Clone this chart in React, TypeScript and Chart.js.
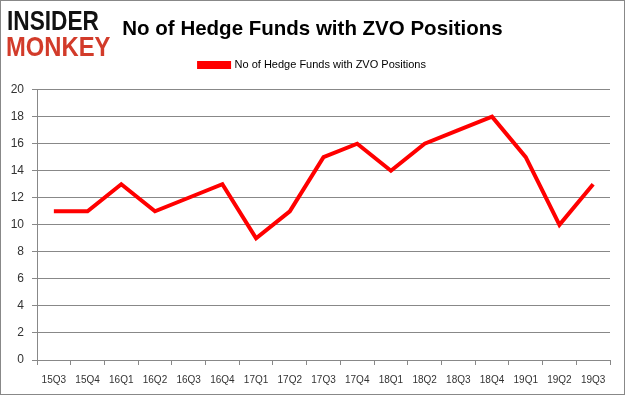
import React, { useEffect, useRef } from "react";
import { Chart, registerables } from "chart.js";

Chart.register(...registerables);

const categories = ["15Q3","15Q4","16Q1","16Q2","16Q3","16Q4","17Q1","17Q2","17Q3","17Q4","18Q1","18Q2","18Q3","18Q4","19Q1","19Q2","19Q3"];
const hedgeFunds = [11, 11, 13, 11, 12, 13, 9, 11, 15, 16, 14, 16, 17, 18, 15, 10, 13];
const seriesLabel = "No of Hedge Funds with ZVO Positions";
const titleText = "No of Hedge Funds with ZVO Positions";

const legendGap = {
  id: "legendGap",
  beforeInit(chart: any) {
    const legend = chart.legend;
    if (!legend) return;
    const origFit = legend.fit;
    legend.fit = function () {
      origFit.call(this);
      this.height += 9;
    };
  },
};

export default function App() {
  const ref = useRef<HTMLCanvasElement | null>(null);
  useEffect(() => {
    if (!ref.current) return;
    const chart = new Chart(ref.current, {
      type: "line",
      data: {
        labels: categories,
        datasets: [
          {
            label: seriesLabel,
            data: hedgeFunds,
            borderColor: "#ff0000",
            backgroundColor: "#ff0000",
            borderWidth: 4,
            pointRadius: 0,
            tension: 0,
          },
        ],
      },
      plugins: [legendGap],
      options: {
        animation: false,
        responsive: false,
        layout: { padding: { left: 14, right: 14, top: 16, bottom: 0 } },
        plugins: {
          title: {
            display: true,
            text: titleText,
            color: "#000",
            font: { family: "Liberation Sans", size: 20.5, weight: "bold" },
            padding: { top: 0, bottom: 12 },
          },
          legend: {
            display: true,
            labels: {
              boxWidth: 30,
              boxHeight: 4,
              color: "#000",
              font: { family: "Liberation Sans", size: 11 },
              padding: 6,
            },
          },
          tooltip: { enabled: false },
        },
        scales: {
          x: {
            offset: true,
            grid: { offset: true, drawOnChartArea: false, drawTicks: true, tickLength: 5, color: "#888" },
            border: { color: "#888" },
            ticks: { color: "#333", font: { family: "Liberation Sans", size: 10 }, maxRotation: 0, autoSkip: false, padding: 9 },
            afterFit: (scale: any) => { scale.height = 34; },
          },
          y: {
            min: 0,
            max: 20,
            ticks: { stepSize: 2, color: "#333", font: { family: "Liberation Sans", size: 12 }, padding: 8 },
            grid: { color: "#888", tickLength: 5 },
            border: { color: "#888" },
            afterFit: (scale: any) => {
              scale.width = 22;
              scale._computeLabelArea = () => undefined;
            },
          },
        },
      },
    });
    return () => chart.destroy();
  }, []);
  return (
    <div style={{ position: "fixed", left: 0, top: 0, width: 625, height: 395, background: "#fff", boxSizing: "border-box", border: "1px solid #888", overflow: "hidden" }}>
      <canvas ref={ref} width={623} height={393} style={{ position: "absolute", left: 0, top: 0 }} />
      <div style={{ position: "absolute", left: 6, top: 5, fontFamily: "Liberation Sans", fontWeight: 900, fontSize: 28, lineHeight: "30px", color: "#111", transform: "scaleX(0.81)", transformOrigin: "left top", whiteSpace: "nowrap" }}>INSIDER</div>
      <div style={{ position: "absolute", left: 5, top: 31, fontFamily: "Liberation Sans", fontWeight: 900, fontSize: 28, lineHeight: "30px", color: "#d23b2a", transform: "scaleX(0.85)", transformOrigin: "left top", whiteSpace: "nowrap" }}>MONKEY</div>
    </div>
  );
}
